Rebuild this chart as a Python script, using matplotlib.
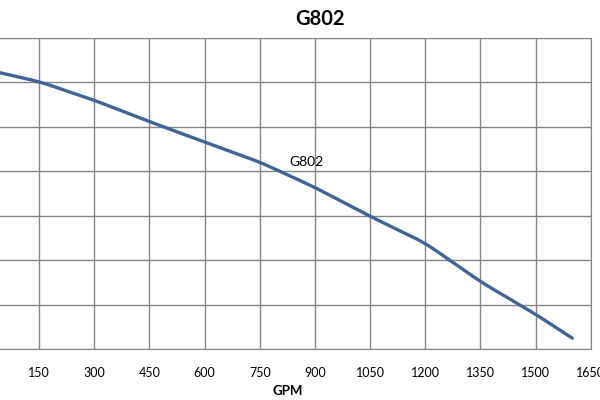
import numpy as np
import matplotlib.pyplot as plt

# pump curve G802, flow (GPM) vs head
gpm = [0, 150, 300, 450, 600, 750, 800, 900, 1050, 1200, 1350, 1500, 1600]
head = [63.0, 60.2, 56.0, 51.2, 46.6, 42.1, 40.2, 36.4, 29.9, 23.9, 15.2, 7.9, 2.5]
xticks = [0, 150, 300, 450, 600, 750, 900, 1050, 1200, 1350, 1500, 1650]
yticks = [0, 10, 20, 30, 40, 50, 60, 70]
label_at = 800

plt.rcParams['font.family'] = ['Lato', 'DejaVu Sans']

fig = plt.figure(figsize=(6, 4), dpi=100)
ax = fig.add_axes([-16 / 600, 1 - 349.3 / 400, 606.7 / 600, (349.3 - 38) / 400])

# smooth the line a little like the spreadsheet does
xs = np.linspace(gpm[0], gpm[-1], 400)
ys = np.interp(xs, gpm, head)
k = 9
pad = np.pad(ys, k, mode='reflect', reflect_type='odd')
ys = np.convolve(pad, np.ones(2 * k + 1) / (2 * k + 1), mode='valid')
ax.plot(xs, ys, color='#3F6495', lw=2.4, solid_capstyle='round')

ax.annotate('G802', (label_at, np.interp(label_at, gpm, head)), xytext=(8, 2),
            textcoords='offset points', fontsize=10, color='black', va='bottom')

ax.set_xlim(0, 1650)
ax.set_ylim(0, 70)
ax.set_xticks(xticks)
ax.set_xticklabels([''] + [str(t) for t in xticks[1:]])
ax.set_yticks(yticks)
ax.set_yticklabels([])
ax.tick_params(length=0, labelsize=9, pad=13)
ax.grid(True, color='#868686', lw=1)
for s in ax.spines.values():
    s.set_color('#868686')
ax.set_xlabel('GPM', fontsize=9.5, fontweight='bold', labelpad=4)

fig.text(320 / 600, 1 - 19 / 400, 'G802', ha='center', va='center',
         fontsize=14.5, fontweight='bold')

plt.savefig('out.png', dpi=100)
